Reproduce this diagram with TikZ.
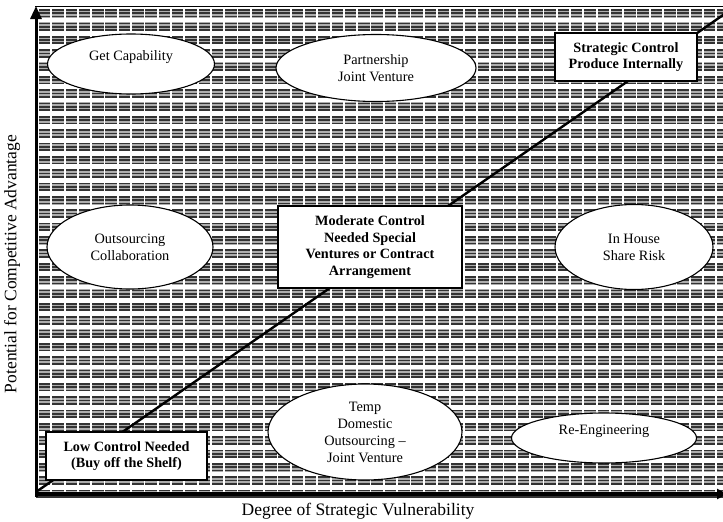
\documentclass[tikz,border=0pt]{standalone}
\usepackage{fontspec}
\setmainfont{Liberation Serif}
\usetikzlibrary{shapes.geometric,arrows.meta}
\begin{document}
\begin{tikzpicture}[x=1pt,y=-1pt,
 oval/.style={ellipse,draw=black,line width=1.1pt,fill=white,inner sep=0pt,align=center,font=\fontsize{14.3}{17}\selectfont},
 ctrlbox/.style={rectangle,draw=black,line width=1.1pt,fill=white,inner sep=0pt,align=center,font=\fontsize{14.2}{16.5}\selectfont\bfseries},
 axislabel/.style={font=\fontsize{17.5}{20}\selectfont}]
\useasboundingbox (0,0) rectangle (723,522);
\clip (0,0) rectangle (723,522);
% background pattern
\foreach \r in {0,...,36} {
  \pgfmathsetmacro\yy{9+13.35*\r}
  \fill[black!32] (36,\yy) rectangle (723,\yy+8.6);
  \foreach \k in {1,4.3,7.6} \draw[black!80,line width=1.7pt] (36,\yy+\k) -- (723,\yy+\k);
}
\foreach \c in {0,...,52} \draw[white,line width=1.8pt] (38+13.3*\c,8) -- ++(0,484);
% frame top
\draw[line width=0.8pt] (35,6) -- (723,6);
% diagonal
\coordinate (dstart) at (36,492);
\coordinate (dend) at (726,13);
\draw[line width=2.4pt] (dstart) -- (dend);
% axes
\coordinate (origin) at (36,494);
\coordinate (ytop) at (36,6);
\coordinate (xend) at (727,494);
\draw[line width=3pt,-{Triangle[length=13pt,width=11pt]}] (36,497) -- (ytop);
\draw[line width=4.5pt,-{Triangle[length=10pt,width=10pt]}] (origin) -- (xend);
% ovals
\node[oval,minimum width=167pt,minimum height=60pt] (cap) at (131,64) {Get Capability\\\mbox{}};
\node[oval,minimum width=200pt,minimum height=67pt] (part) at (376,68) {Partnership\\Joint Venture};
\node[oval,minimum width=166pt,minimum height=84pt] (outs) at (130,247) {Outsourcing\\Collaboration};
\node[oval,minimum width=158pt,minimum height=85pt] (inh) at (634,247) {In House\\Share Risk};
\node[oval,minimum width=194pt,minimum height=96pt] (temp) at (365,432) {Temp\\Domestic\\Outsourcing --\\Joint Venture};
\node[oval,minimum width=185pt,minimum height=50pt] (reeng) at (604,438) {Re-Engineering\\\mbox{}};
% boxes
\node[ctrlbox,minimum width=142pt,minimum height=48pt] (strat) at (626,57) {Strategic Control\\Produce Internally};
\node[ctrlbox,minimum width=161pt,minimum height=48pt] (low) at (126.5,456) {Low Control Needed\\(Buy off the Shelf)};
\node[ctrlbox,minimum width=184pt,minimum height=82pt] (mod) at (370,247) {Moderate Control\\Needed Special\\Ventures or Contract\\Arrangement};
% labels
\node[axislabel,rotate=90] (ylab) at (12,264) {Potential for Competitive Advantage};
\node[axislabel] (xlab) at (358,511) {Degree of Strategic Vulnerability};
\end{tikzpicture}
\end{document}
